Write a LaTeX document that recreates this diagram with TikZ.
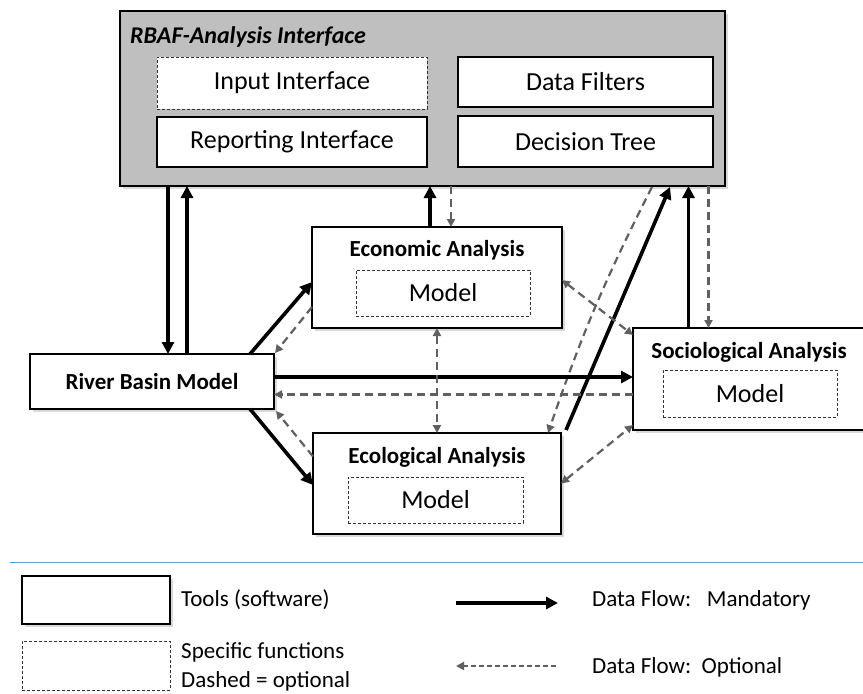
\documentclass[tikz,border=0pt]{standalone}
\usepackage{fontspec}
\setmainfont{Carlito}
\usetikzlibrary{arrows.meta,shadows}
\definecolor{boxgray}{HTML}{BFBFBF}
\definecolor{optgray}{HTML}{606060}
\definecolor{rule}{HTML}{5B9BD5}
\tikzset{
  tool/.style={draw,line width=1.8pt,fill=white,inner sep=0pt,outer sep=0pt,
    drop shadow={shadow xshift=3pt,shadow yshift=-3pt,opacity=0.3}},
  func/.style={draw=black!80,line width=0.8pt,dash pattern=on 3pt off 2pt,fill=white,
    inner sep=0pt,outer sep=0pt,font=\fontsize{26}{30}\selectfont},
  plain/.style={draw,line width=1.2pt,fill=white,inner sep=0pt,outer sep=0pt,
    font=\fontsize{26}{30}\selectfont},
  ttl/.style={font=\fontsize{23}{27}\selectfont\bfseries,inner sep=0pt},
  lgd/.style={font=\fontsize{23}{27}\selectfont,inner sep=0pt,anchor=west},
  mand/.style={line width=3.6pt,-{Triangle[length=12pt,width=12pt]}},
  opt/.style={optgray,line width=2.2pt,dash pattern=on 8pt off 5pt,
    -{Triangle[length=8pt,width=8pt]}},
  optb/.style={opt,{Triangle[length=8pt,width=8pt]}-{Triangle[length=8pt,width=8pt]}}
}
\begin{document}
\begin{tikzpicture}[x=1pt,y=-1pt]
  \useasboundingbox (0,0) rectangle (863,694);
  % analysis interface
  \node[tool,fill=boxgray,minimum width=605pt,minimum height=175pt] (rbaf) at (422.5,98.5) {};
  \node[anchor=west,inner sep=0pt,font=\fontsize{24}{28}\selectfont\bfseries\itshape] (rbaftitle) at (130,37) {RBAF-Analysis Interface};
  \node[func,minimum width=270pt,minimum height=52pt] (input) at (292,83) {Input Interface};
  \node[plain,minimum width=255pt,minimum height=50pt] (filters) at (585.5,82) {Data Filters};
  \node[plain,minimum width=270pt,minimum height=50pt] (report) at (292,142) {Reporting Interface};
  \node[plain,minimum width=255pt,minimum height=51pt] (dtree) at (585.5,141.5) {Decision Tree};
  % analysis tools
  \node[tool,minimum width=250pt,minimum height=101pt] (econ) at (437,277.5) {};
  \node[ttl] (econtitle) at (437,250) {Economic Analysis};
  \node[func,minimum width=174pt,minimum height=46pt] (econmodel) at (443,293) {Model};
  \node[tool,minimum width=244pt,minimum height=55pt,ttl] (river) at (152,381.5) {River Basin Model};
  \node[tool,minimum width=237pt,minimum height=102pt] (socio) at (751.5,379) {};
  \node[ttl] (sociotitle) at (749,352) {Sociological Analysis};
  \node[func,minimum width=174pt,minimum height=47pt] (sociomodel) at (750,393.5) {Model};
  \node[tool,minimum width=248pt,minimum height=101pt] (eco) at (437,483.5) {};
  \node[ttl] (ecotitle) at (437,457) {Ecological Analysis};
  \node[func,minimum width=175pt,minimum height=46pt] (ecomodel) at (435.5,500) {Model};
  % data flows
  \draw[mand] ([xshift=16pt]river.north |- rbaf.south) -- ([xshift=16pt]river.north);
  \draw[mand] ([xshift=35pt]river.north) -- ([xshift=35pt]river.north |- rbaf.south);
  \draw[mand] ([xshift=-7pt]econ.north) -- ([xshift=-7pt]econ.north |- rbaf.south);
  \draw[opt] ([xshift=14pt]econ.north |- rbaf.south) -- ([xshift=14pt]econ.north);
  \draw[mand] ([xshift=-63pt]socio.north) -- ([xshift=-63pt]socio.north |- rbaf.south);
  \draw[opt] ([xshift=-43pt]socio.north |- rbaf.south) -- ([xshift=-43pt]socio.north);
  \draw[mand] ([xshift=5pt,yshift=3pt]eco.north east) -- ([xshift=247.5pt,yshift=-1pt]rbaf.south);
  \draw[opt] ([xshift=229.5pt,yshift=-1pt]rbaf.south) to[bend right=4] ([xshift=-13pt]eco.north east);
  \draw[mand] ([xshift=-24pt]river.north east) -- ([yshift=-4.5pt]econ.west);
  \draw[opt] ([yshift=-29.5pt]econ.west) -- ([xshift=1pt,yshift=1pt]river.north east);
  \draw[mand] ([xshift=-24pt]river.south east) -- ([yshift=-1.5pt]eco.west);
  \draw[opt] ([yshift=27pt]eco.west) -- ([xshift=2pt,yshift=-2pt]river.south east);
  \draw[mand] ([yshift=4.5pt]river.east) -- ([yshift=4.5pt]river.east -| socio.west);
  \draw[opt] ([yshift=-13pt]river.east -| socio.west) -- ([yshift=-13pt]river.east);
  \draw[optb] (econ.south) -- (eco.north);
  \draw[optb] ([yshift=-2.5pt]econ.east) -- ([yshift=-7pt]socio.north west);
  \draw[optb] (eco.east) -- ([yshift=5pt]socio.south west);
  % legend
  \coordinate (ruleL) at (10,562);
  \coordinate (ruleR) at (863,562);
  \draw[rule,line width=1pt] (ruleL) -- (ruleR);
  \node[tool,minimum width=148pt,minimum height=48pt] (ltool) at (96,600) {};
  \node[lgd] (ltooltext) at (181,600) {Tools (software)};
  \node[func,minimum width=148pt,minimum height=49pt] (lfunc) at (96,665.5) {};
  \node[lgd] (lfunctext) at (181,652) {Specific functions};
  \node[lgd] (lfunctext2) at (181,681) {Dashed = optional};
  \coordinate (lmandA) at (456,603);
  \coordinate (lmandB) at (558,603);
  \draw[mand,line width=4.5pt] (lmandA) -- (lmandB);
  \node[lgd] (lmandtext) at (592,600) {Data Flow:\ \ \ Mandatory};
  \coordinate (loptA) at (556,666);
  \coordinate (loptB) at (456,666);
  \draw[opt,line width=2pt,dash pattern=on 5pt off 3pt] (loptA) -- (loptB);
  \node[lgd] (lopttext) at (592,667) {Data Flow:\ \ Optional};
\end{tikzpicture}
\end{document}
